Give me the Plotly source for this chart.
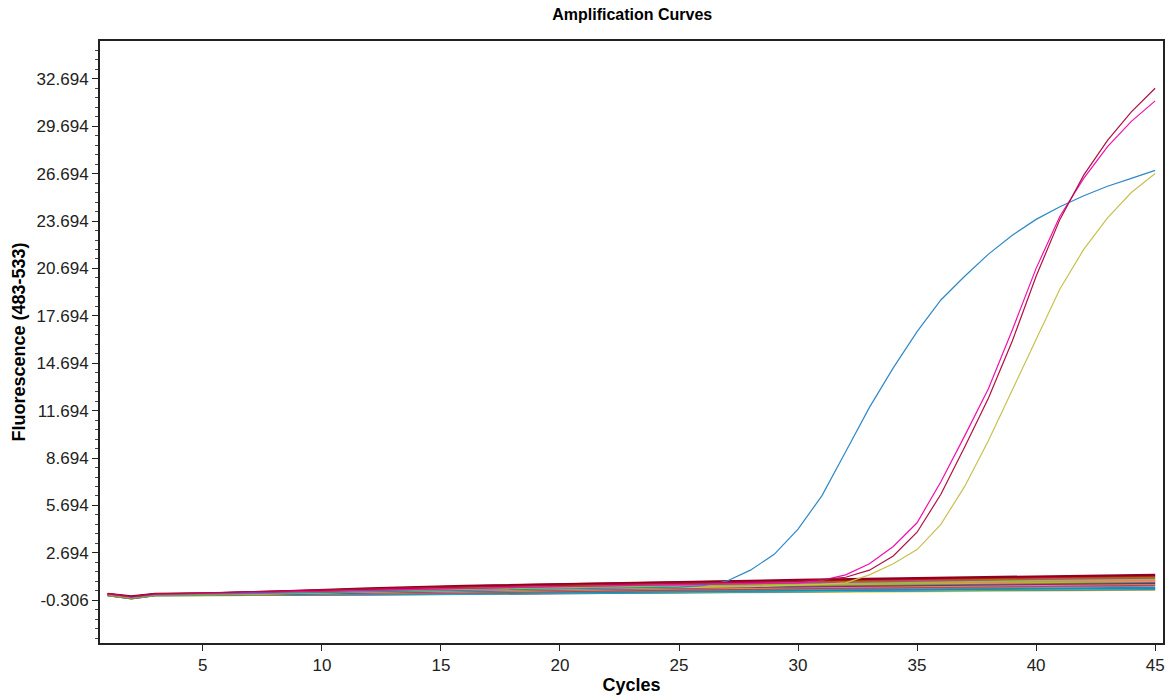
import plotly.graph_objects as go

# ---------------- data ----------------
cycles = list(range(1, 46))

# amplifying samples (value per cycle 1..45)
blue_amp = [0.10, -0.12, 0.05, 0.06, 0.08, 0.10, 0.12, 0.14, 0.16, 0.18,
            0.20, 0.22, 0.24, 0.26, 0.28, 0.30, 0.32, 0.34, 0.36, 0.38,
            0.40, 0.42, 0.45, 0.48, 0.52, 0.62, 0.90, 1.60, 2.60, 4.20,
            6.30, 9.10, 11.90, 14.40, 16.70, 18.70, 20.20, 21.60, 22.80, 23.80,
            24.60, 25.30, 25.90, 26.40, 26.90]
magenta_amp = [0.08, -0.10, 0.08, 0.10, 0.13, 0.16, 0.19, 0.22, 0.25, 0.28,
               0.31, 0.34, 0.37, 0.40, 0.43, 0.46, 0.49, 0.52, 0.55, 0.58,
               0.60, 0.62, 0.64, 0.66, 0.68, 0.70, 0.72, 0.74, 0.76, 0.80,
               0.95, 1.30, 2.00, 3.10, 4.60, 7.20, 10.10, 13.10, 16.80, 20.70,
               24.00, 26.40, 28.40, 30.00, 31.30]
crimson_amp = [0.12, -0.08, 0.10, 0.12, 0.16, 0.20, 0.24, 0.28, 0.32, 0.36,
               0.40, 0.43, 0.46, 0.49, 0.52, 0.55, 0.58, 0.61, 0.64, 0.67,
               0.70, 0.72, 0.74, 0.76, 0.78, 0.80, 0.82, 0.84, 0.86, 0.90,
               1.00, 1.15, 1.60, 2.50, 4.00, 6.40, 9.40, 12.50, 16.10, 20.20,
               23.80, 26.60, 28.80, 30.60, 32.10]
yellow_amp = [0.05, -0.15, 0.04, 0.05, 0.07, 0.09, 0.11, 0.13, 0.15, 0.17,
              0.19, 0.21, 0.23, 0.25, 0.27, 0.29, 0.31, 0.33, 0.35, 0.37,
              0.39, 0.41, 0.43, 0.45, 0.47, 0.50, 0.53, 0.56, 0.60, 0.64,
              0.70, 0.80, 1.30, 2.00, 2.90, 4.50, 6.90, 9.80, 13.00, 16.20,
              19.40, 21.90, 23.90, 25.50, 26.70]

# negative samples, read at these cycles
base_cycles = [1, 2, 3, 5, 8, 12, 16, 20, 25, 30, 35, 40, 45]
neg_darkred = [0.10, -0.05, 0.10, 0.12, 0.25, 0.45, 0.60, 0.72, 0.85, 0.98, 1.10, 1.20, 1.30]
neg_red = [0.08, -0.10, 0.08, 0.10, 0.22, 0.42, 0.58, 0.70, 0.82, 0.96, 1.05, 1.15, 1.25]
neg_olive = [0.05, -0.15, 0.05, 0.08, 0.18, 0.35, 0.50, 0.62, 0.75, 0.88, 0.98, 1.08, 1.18]
neg_magenta = [0.06, -0.12, 0.06, 0.12, 0.20, 0.33, 0.48, 0.60, 0.70, 0.82, 0.92, 1.05, 1.12]
neg_lime = [0.04, -0.14, 0.04, 0.06, 0.14, 0.28, 0.40, 0.52, 0.62, 0.74, 0.86, 0.96, 1.05]
neg_pink = [0.07, -0.11, 0.07, 0.09, 0.16, 0.30, 0.42, 0.54, 0.64, 0.74, 0.82, 0.90, 0.98]
neg_orange = [0.05, -0.13, 0.05, 0.07, 0.13, 0.25, 0.36, 0.48, 0.58, 0.68, 0.76, 0.84, 0.92]
neg_green = [0.03, -0.16, 0.03, 0.05, 0.10, 0.22, 0.33, 0.44, 0.54, 0.63, 0.72, 0.80, 0.88]
neg_purple = [0.05, -0.12, 0.05, 0.06, 0.10, 0.20, 0.30, 0.40, 0.50, 0.58, 0.66, 0.74, 0.80]
neg_salmon = [0.04, -0.14, 0.04, 0.05, 0.08, 0.16, 0.26, 0.35, 0.44, 0.52, 0.60, 0.68, 0.74]
neg_sienna = [0.06, -0.10, 0.06, 0.06, 0.08, 0.14, 0.22, 0.30, 0.38, 0.46, 0.54, 0.62, 0.68]
neg_lavender = [0.03, -0.15, 0.03, 0.04, 0.06, 0.12, 0.19, 0.27, 0.34, 0.42, 0.49, 0.56, 0.62]
neg_teal = [0.02, -0.17, 0.02, 0.03, 0.04, 0.08, 0.14, 0.20, 0.26, 0.32, 0.38, 0.44, 0.48]
neg_sky = [0.03, -0.16, 0.03, 0.03, 0.04, 0.07, 0.12, 0.17, 0.23, 0.29, 0.35, 0.40, 0.44]
neg_royal = [0.02, -0.18, 0.02, 0.02, 0.03, 0.06, 0.10, 0.15, 0.21, 0.27, 0.32, 0.37, 0.40]
neg_gold = [0.01, -0.18, 0.01, 0.02, 0.03, 0.05, 0.09, 0.14, 0.19, 0.24, 0.29, 0.33, 0.36]

y_tickvals = [-0.306, 2.694, 5.694, 8.694, 11.694, 14.694, 17.694,
              20.694, 23.694, 26.694, 29.694, 32.694]
y_ticktext = ["-0.306", "2.694", "5.694", "8.694", "11.694", "14.694", "17.694",
              "20.694", "23.694", "26.694", "29.694", "32.694"]
x_tickvals = [5, 10, 15, 20, 25, 30, 35, 40, 45]

# ---------------- figure ----------------
fig = go.Figure()

negatives = [
    (neg_gold, "#E8D020"), (neg_royal, "#3050D0"), (neg_sky, "#30C0E8"),
    (neg_teal, "#209090"), (neg_lavender, "#9070D0"), (neg_sienna, "#A0522D"),
    (neg_salmon, "#F08070"), (neg_purple, "#8020A0"), (neg_green, "#30A030"),
    (neg_orange, "#F0A020"), (neg_pink, "#F070B0"), (neg_lime, "#80D020"),
    (neg_magenta, "#E020E0"), (neg_olive, "#8A7A10"), (neg_red, "#E01020"),
    (neg_darkred, "#900020"),
]
for vals, col in negatives:
    fig.add_trace(go.Scatter(x=base_cycles, y=vals, mode="lines",
                             line=dict(color=col, width=2.2), hoverinfo="skip"))

amps = [
    (yellow_amp, "#C8C050"), (blue_amp, "#2E88C8"),
    (magenta_amp, "#F010B0"), (crimson_amp, "#B01040"),
]
for vals, col in amps:
    fig.add_trace(go.Scatter(x=cycles, y=vals, mode="lines",
                             line=dict(color=col, width=1.2), hoverinfo="skip"))

axis_font = dict(family="Liberation Sans, Arial, sans-serif", size=17, color="#222")
title_font = dict(family="Liberation Sans, Arial, sans-serif", size=18, color="#000", weight="bold")

fig.update_layout(
    width=1173, height=700,
    margin=dict(l=100, r=8, t=41, b=54),
    paper_bgcolor="white", plot_bgcolor="white",
    showlegend=False,
    title=dict(text="<b>Amplification Curves</b>", x=0.539, xanchor="center",
               y=0.979, yanchor="middle",
               font=dict(family="Liberation Sans, Arial, sans-serif", size=16, color="#000")),
    xaxis=dict(range=[0.68, 45.33], tickvals=x_tickvals, ticks="outside", ticklen=6,
               tickcolor="#222", tickfont=axis_font, showgrid=False, zeroline=False,
               showline=True, linecolor="#222", linewidth=2, mirror=True,
               title=dict(text="Cycles", font=title_font, standoff=4)),
    yaxis=dict(range=[-3.01, 35.09], tickvals=y_tickvals, ticktext=y_ticktext,
               ticks="outside", ticklen=6, tickcolor="#222", tickfont=axis_font,
               showgrid=False, zeroline=False,
               showline=True, linecolor="#222", linewidth=2, mirror=True,
               minor=dict(tick0=-0.306, dtick=0.6, ticks="outside", ticklen=3,
                          tickcolor="#444", showgrid=False),
               title=dict(text="Fluorescence (483-533)", font=title_font, standoff=6)),
)

fig.write_html("out.html")
